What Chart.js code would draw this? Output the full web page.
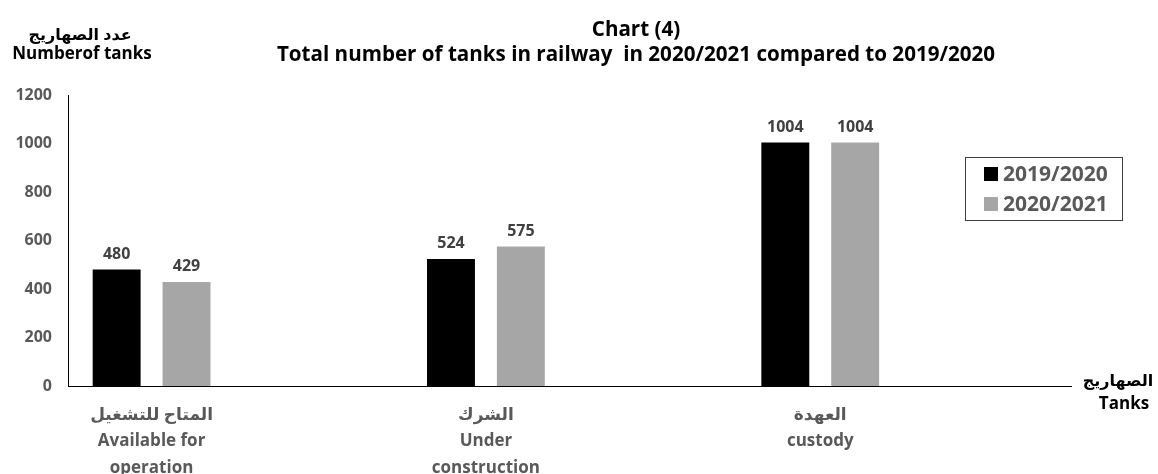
<!DOCTYPE html>
<html>
<head>
<meta charset="utf-8">
<script src="https://cdn.jsdelivr.net/npm/chart.js@4/dist/chart.umd.min.js"></script>
<style>
  html, body { margin: 0; padding: 0; background: #fff; }
  #wrap { width: 1158px; height: 474px; }
</style>
</head>
<body>
<div id="wrap"><canvas id="chart" width="1158" height="474"></canvas></div>
<script>
// Chart data
const categories = [
  ['المتاح للتشغيل', 'Available for', 'operation'],
  ['الشرك', 'Under', 'construction'],
  ['العهدة', 'custody']
];
const seriesNames = ['2019/2020', '2020/2021'];
const values2019 = [480, 524, 1004];
const values2020 = [429, 575, 1004];
const yTicks = [0, 200, 400, 600, 800, 1000, 1200];

const FONT = "'Open Sans', 'DejaVu Sans', sans-serif";
const TEXT_GRAY = '#595959';

/**
 * Draw value labels above every bar
 */
const valueLabels = {
  id: 'valueLabels',
  afterDatasetsDraw(chart) {
    const ctx = chart.ctx;
    ctx.save();
    ctx.font = `bold 16px ${FONT}`;
    ctx.fillStyle = '#404040';
    ctx.textAlign = 'center';
    ctx.textBaseline = 'alphabetic';
    chart.data.datasets.forEach((ds, i) => {
      chart.getDatasetMeta(i).data.forEach((bar, j) => {
        ctx.fillText(String(ds.data[j]), bar.x, bar.y - 11);
      });
    });
    ctx.restore();
  }
};

/**
 * Titles, axis names and the boxed legend
 */
const decorations = {
  id: 'decorations',
  afterDraw(chart) {
    const ctx = chart.ctx;
    ctx.save();
    ctx.textAlign = 'center';
    ctx.textBaseline = 'middle';
    ctx.fillStyle = '#000';

    // chart title
    ctx.font = `bold 20.6px ${FONT}`;
    ctx.fillText('Chart (4)', 636, 30);
    ctx.fillText('Total number of tanks in railway  in 2020/2021 compared to 2019/2020', 636, 55);

    // y axis name
    ctx.font = `bold 16px ${FONT}`;
    ctx.fillText('عدد الصهاريج', 80, 35);
    ctx.font = `bold 17px ${FONT}`;
    ctx.fillText('Numberof tanks', 82, 54);

    // x axis name
    ctx.font = `bold 16px ${FONT}`;
    ctx.fillText('الصهاريج', 1118, 381);
    ctx.font = `bold 17px ${FONT}`;
    ctx.fillText('Tanks', 1124, 404);

    // legend box
    ctx.strokeStyle = '#404040';
    ctx.lineWidth = 1;
    ctx.strokeRect(965.5, 157.5, 157, 63);
    ctx.textAlign = 'left';
    ctx.font = `bold 21px ${FONT}`;
    chart.data.datasets.forEach((ds, i) => {
      const cy = 174 + i * 30;
      ctx.fillStyle = ds.backgroundColor;
      ctx.fillRect(984, cy - 7, 14, 14);
      ctx.fillStyle = TEXT_GRAY;
      ctx.fillText(ds.label, 1003, cy + 1);
    });
    ctx.restore();
  }
};

const ctx = document.getElementById('chart').getContext('2d');

new Chart(ctx, {
  type: 'bar',
  data: {
    labels: categories,
    datasets: [
      { label: seriesNames[0], data: values2019, backgroundColor: '#000000' },
      { label: seriesNames[1], data: values2020, backgroundColor: '#a6a6a6' }
    ]
  },
  options: {
    responsive: false,
    animation: false,
    layout: { padding: { top: 95, right: 87, left: 0, bottom: 0 } },
    datasets: {
      bar: { categoryPercentage: 0.418, barPercentage: 0.686 }
    },
    plugins: {
      legend: { display: false },
      title: { display: false },
      tooltip: { enabled: false }
    },
    scales: {
      x: {
        grid: { display: false, drawTicks: false },
        border: { display: true, color: '#000', width: 1 },
        ticks: {
          color: TEXT_GRAY,
          font: { family: FONT, size: 17, weight: 'bold', lineHeight: 1.55 },
          padding: 16,
          maxRotation: 0,
          autoSkip: false
        },
        // the groups sit left of centre: a quarter slot before the first, three quarters after the last
        afterBuildTicks(scale) {
          scale._startValue = -0.25;
          scale._valueRange = 3;
        },
        afterFit(scale) { scale.height = 88; }
      },
      y: {
        min: 0,
        max: 1200,
        grid: { display: false, drawTicks: false },
        border: { display: true, color: '#000', width: 1 },
        afterBuildTicks(scale) { scale.ticks = yTicks.map(v => ({ value: v })); },
        ticks: {
          color: TEXT_GRAY,
          font: { family: FONT, size: 16, weight: 'bold' },
          padding: 16,
          callback: (v) => String(v)
        },
        afterFit(scale) { scale.width = 68; }
      }
    }
  },
  plugins: [valueLabels, decorations]
});
</script>
</body>
</html>
